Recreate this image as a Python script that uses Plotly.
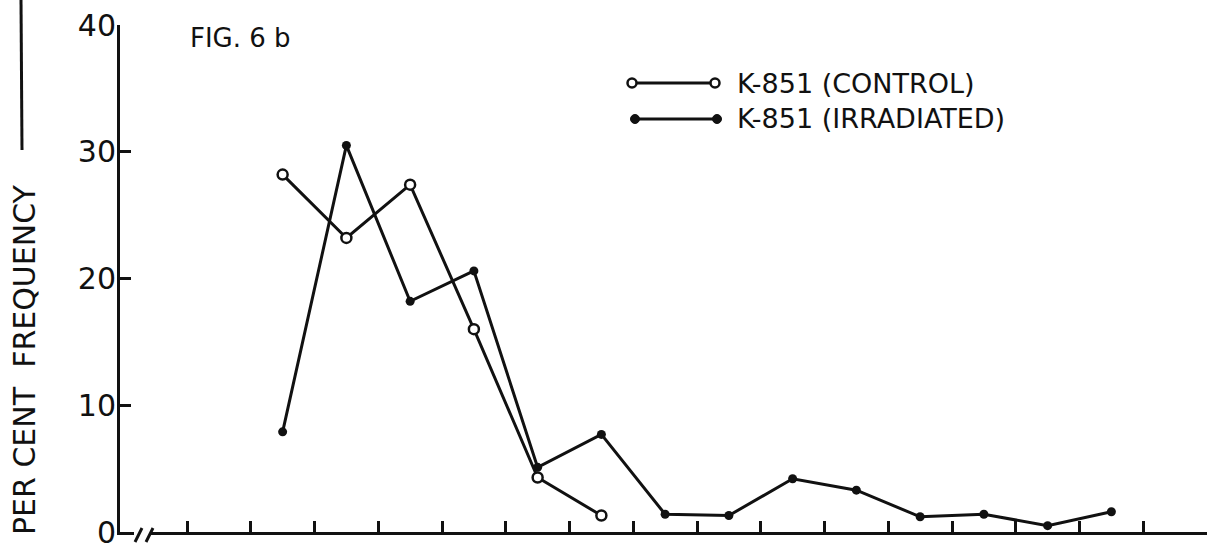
import plotly.graph_objects as go

# ---- data ----
# class intervals are the spaces between x-axis ticks; values are plotted at interval centres
control_bins = [1, 2, 3, 4, 5, 6]
control_vals = [28.2, 23.2, 27.4, 16.0, 4.3, 1.3]

irradiated_bins = [1, 2, 3, 4, 5, 6, 7, 8, 9, 10, 11, 12, 13, 14]
irradiated_vals = [7.9, 30.5, 18.2, 20.6, 5.1, 7.7, 1.4, 1.3, 4.2, 3.3, 1.2, 1.4, 0.5, 1.6]

y_ticks = [0, 10, 20, 30, 40]
x_ticks = list(range(0, 17))

series_names = ["K-851 (CONTROL)", "K-851 (IRRADIATED)"]
fig_label = "FIG. 6 b"
y_title = "PER CENT  FREQUENCY"

# ---- layout geometry ----
W, H = 1214, 553
ML, MR, MT, MB = 120, 7, 25, 21
PW, PH = W - ML - MR, H - MT - MB
FONT = "DejaVu Sans"
INK = "#111111"


def px(xp):
    return (xp - ML) / PW


def py(yp):
    return (H - MB - yp) / PH


fig = go.Figure()

fig.add_trace(go.Scatter(
    x=[b + 0.5 for b in irradiated_bins], y=irradiated_vals,
    mode="lines+markers", name=series_names[1],
    line=dict(color=INK, width=3),
    marker=dict(symbol="circle", size=9, color=INK),
    cliponaxis=False,
))
fig.add_trace(go.Scatter(
    x=[b + 0.5 for b in control_bins], y=control_vals,
    mode="lines+markers", name=series_names[0],
    line=dict(color=INK, width=3),
    marker=dict(symbol="circle", size=10, color="white", line=dict(color=INK, width=2.5)),
    cliponaxis=False,
))

shapes = []
annotations = []

# y-axis title with the rule above it
annotations.append(dict(
    text=y_title, xref="paper", yref="paper", x=px(24), y=py(360),
    textangle=-90, showarrow=False, font=dict(family=FONT, size=30, color=INK),
    xanchor="center", yanchor="middle"))
shapes.append(dict(type="line", xref="paper", yref="paper",
                   x0=px(21), x1=px(22), y0=py(0), y1=py(150),
                   line=dict(color=INK, width=3)))

# figure label
annotations.append(dict(
    text=fig_label, xref="paper", yref="paper", x=px(188), y=py(38),
    showarrow=False, font=dict(family=FONT, size=26, color=INK),
    xanchor="left", yanchor="middle"))

# legend (hand drawn style)
legend_rows = [(83, True, 632, 715), (119, False, 635, 717)]
for (yy, hollow, xa, xb), name in zip(legend_rows, series_names):
    shapes.append(dict(type="line", xref="paper", yref="paper",
                       x0=px(xa), x1=px(xb), y0=py(yy), y1=py(yy),
                       line=dict(color=INK, width=3)))
    for xc in (xa, xb):
        r = 4.5
        shapes.append(dict(type="circle", xref="paper", yref="paper",
                           xsizemode="pixel", ysizemode="pixel",
                           xanchor=px(xc), yanchor=py(yy),
                           x0=-r, x1=r, y0=-r, y1=r,
                           fillcolor="white" if hollow else INK,
                           line=dict(color=INK, width=2.5 if hollow else 1)))
    annotations.append(dict(
        text=name, xref="paper", yref="paper", x=px(735), y=py(yy),
        showarrow=False, font=dict(family=FONT, size=27, color=INK),
        xanchor="left", yanchor="middle"))

# axis break marks on the x axis
shapes.append(dict(type="rect", xref="paper", yref="paper",
                   x0=px(134), x1=px(151), y0=py(538), y1=py(527),
                   fillcolor="white", line=dict(width=0), layer="above"))
for x_low, x_high in ((135, 142), (146, 153)):
    shapes.append(dict(type="line", xref="paper", yref="paper",
                       x0=px(x_low), x1=px(x_high), y0=py(542), y1=py(528),
                       line=dict(color=INK, width=3), layer="above"))

fig.update_layout(
    width=W, height=H,
    margin=dict(l=ML, r=MR, t=MT, b=MB, autoexpand=False),
    paper_bgcolor="white", plot_bgcolor="white",
    showlegend=False,
    font=dict(family=FONT, color=INK),
    shapes=shapes, annotations=annotations,
    xaxis=dict(range=[-67 / 63.75, 16], tickvals=x_ticks, showticklabels=False,
               ticks="inside", ticklen=11, tickwidth=3, tickcolor=INK,
               showline=True, linewidth=3, linecolor=INK,
               showgrid=False, zeroline=False, fixedrange=True),
    yaxis=dict(range=[0, 40], tickvals=y_ticks, ticktext=[str(v) for v in y_ticks],
               ticks="inside", ticklen=11, tickwidth=3, tickcolor=INK,
               tickfont=dict(family=FONT, size=30, color=INK),
               ticklabelstandoff=-5,
               showline=True, linewidth=3, linecolor=INK,
               showgrid=False, zeroline=False, fixedrange=True),
)

fig.write_html("out.html")
